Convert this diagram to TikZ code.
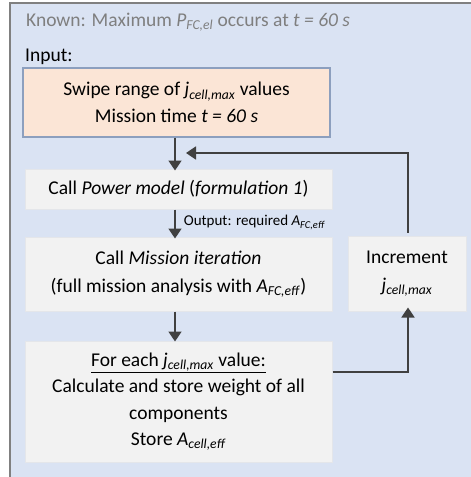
\documentclass[tikz,border=0pt]{standalone}
\usepackage{fontspec}
\setmainfont{Carlito}
\usetikzlibrary{arrows.meta,calc}
\definecolor{outerfill}{HTML}{DAE3F3}
\definecolor{outerline}{HTML}{808080}
\definecolor{inputfill}{HTML}{FBE5D6}
\definecolor{inputline}{HTML}{8C9FBE}
\definecolor{stepfill}{HTML}{F2F2F2}
\definecolor{stepline}{HTML}{E4E6EA}
\definecolor{arrowcol}{HTML}{404040}
\definecolor{knowncol}{HTML}{7F7F7F}
\newcommand{\isub}[2]{\textit{#1}\textsubscript{\textit{#2}}}
\tikzset{
  x=1pt, y=-1pt,
  basefont/.style={font=\fontsize{19.5}{26.5}\selectfont},
  widefont/.style={font=\fontsize{19.5}{28}\selectfont},
  inputbox/.style={draw=inputline, line width=1.4pt, fill=inputfill, basefont, align=center, inner sep=0pt},
  stepbox/.style={draw=stepline, line width=1pt, fill=stepfill, basefont, align=center, inner sep=0pt},
  flow/.style={draw=arrowcol, line width=1.8pt, -{Triangle[length=10pt,width=13pt]}},
}
\begin{document}
\begin{tikzpicture}
\useasboundingbox (0,0) rectangle (471,477);
\clip (0,0) rectangle (471,477);
\fill[outerfill] (10,3) rectangle (490,500);
\draw[outerline, line width=1.6pt] (490,3) -- (10,3) -- (10,500);

\node[anchor=west, basefont, text=knowncol, inner sep=0pt] (known) at (26,22)
  {Known: Maximum \isub{P}{FC,el} occurs at \textit{t = 60 s}};
\node[anchor=west, basefont, inner sep=0pt] (inputlbl) at (25,57) {Input:};

\node[inputbox, minimum width=307pt, minimum height=69pt] (input) at (176.5,102.5)
  {Swipe range of \isub{j}{cell,max} values\\Mission time \textit{t = 60 s}};
\node[stepbox, minimum width=307pt, minimum height=40pt] (power) at (178.5,189)
  {Call \textit{Power model} (\textit{formulation 1})};
\node[stepbox, widefont, minimum width=307pt, minimum height=74pt] (mission) at (178.5,274)
  {Call \textit{Mission iteration}\\(full mission analysis with \isub{A}{FC,eff})};
\node[stepbox, widefont, minimum width=118pt, minimum height=75pt] (incr) at (407,273.5)
  {Increment\\\isub{j}{cell,max}};
\node[stepbox, minimum width=307pt, minimum height=121pt] (store) at (178.5,401.5)
  {\underline{For each \isub{j}{cell,max} value:}\\Calculate and store weight of all\\components\\Store \isub{A}{cell,eff}};

\coordinate (loopturn) at (408,153);
\coordinate (looptip) at (186,153);
\coordinate (backturn) at (408,372);

\draw[flow] (input.south -| 175,0) -- ([yshift=-2pt]power.north -| 175,0);
\draw[flow] (power.south -| 175,0) -- ([yshift=-2pt]mission.north -| 175,0)
  node[pos=0.45, anchor=west, xshift=8pt, font=\fontsize{15}{18}\selectfont, inner sep=0pt] (outlbl) {Output: required \isub{A}{FC,eff}};
\draw[flow] (mission.south -| 175,0) -- ([yshift=-1pt]store.north -| 175,0);
\draw[flow] ([yshift=3pt]incr.north -| loopturn) -- (loopturn) -- (looptip);
\draw[flow] (store.east |- backturn) -- (backturn) -- ([yshift=4pt]incr.south -| backturn);
\end{tikzpicture}
\end{document}
